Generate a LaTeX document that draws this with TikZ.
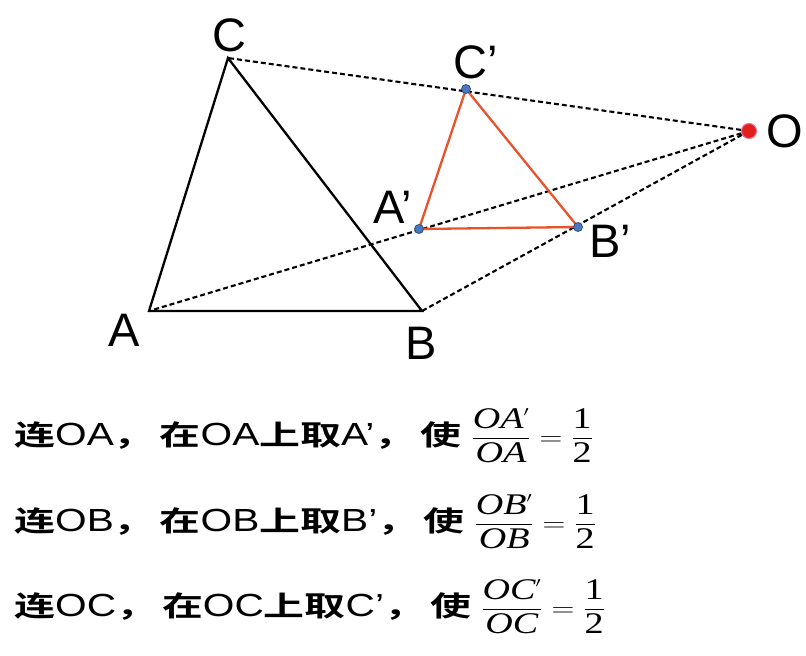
\documentclass[tikz,border=0pt]{standalone}
\usepackage{fontspec}
\usepackage{amsmath}
\setmainfont{Liberation Serif}
\setsansfont{Liberation Sans}
\newfontfamily\cjk[FakeStretch=1.15]{Noto Sans CJK SC Bold}
\newfontfamily\lat{Liberation Sans}
\usetikzlibrary{positioning}
\definecolor{small_red}{HTML}{E9532B}
\definecolor{dot_blue}{HTML}{4A78C0}
\definecolor{dot_edge}{HTML}{2F4F80}
\definecolor{centre_red}{HTML}{E0201A}
\definecolor{centre_edge}{HTML}{F06A9A}
\newcommand\ratio[1]{{\fontsize{30}{30}\selectfont$\displaystyle\frac{\textit{O#1}^{\scriptscriptstyle\prime}}{\textit{O#1}}=\frac{\text{1}}{\text{2}}$}}
\tikzset{
  big_triangle/.style={draw=black, line width=2.3pt},
  small_triangle/.style={draw=small_red, line width=2.3pt},
  ray/.style={draw=black, line width=2.1pt, dash pattern=on 5pt off 3pt},
  point/.style={circle, fill=dot_blue, draw=dot_edge, line width=0.8pt, inner sep=0pt, minimum size=9pt},
  centre/.style={circle, fill=centre_red, draw=centre_edge, line width=1pt, inner sep=0pt, minimum size=15pt},
  vertex_label/.style={font=\fontsize{47}{47}\selectfont\sffamily, inner sep=0pt},
  step_text/.style={anchor=base west, xscale=1.27, transform shape, font=\fontsize{32}{32}\selectfont, inner sep=0pt},
}

\begin{document}
\begin{tikzpicture}[x=1pt, y=-1pt]
  \useasboundingbox (0,0) rectangle (806,656);
  % points of the figure
  \coordinate (A) at (149,311);
  \coordinate (B) at (422,311);
  \coordinate (C) at (228,58);
  \coordinate (O) at (749,131);
  \coordinate (Ap) at (419,229);
  \coordinate (Bp) at (578,227);
  \coordinate (Cp) at (466,89);

  \draw[ray] (O) -- (A);
  \draw[ray] (O) -- (B);
  \draw[ray] (O) -- (C);
  \draw[big_triangle] (A) -- (B) -- (C) -- cycle;
  \draw[small_triangle] (Ap) -- (Bp) -- (Cp) -- cycle;

  \node (dotA) [point] at (Ap) {};
  \node (dotB) [point] at (Bp) {};
  \node (dotC) [point] at (Cp) {};
  \node (dotO) [centre] at (O) {};

  % labels
  \node (labelA) [vertex_label] at (124,330) {A};
  \node (labelB) [vertex_label] at (421,343) {B};
  \node (labelC) [vertex_label] at (229,35) {C};
  \node (labelO) [vertex_label] at (785,131) {O};
  \node (labelAp) [vertex_label] at (393,207) {A’};
  \node (labelBp) [vertex_label] at (610,241) {B’};
  \node (labelCp) [vertex_label] at (476,62) {C’};

  % the three steps
  \node (stepA) [step_text] at (14,445) {{\cjk\fontsize{28}{28}\selectfont 连}{\lat OA}{\cjk\fontsize{28}{28}\selectfont ，\hspace{4pt}在}{\lat OA}{\cjk\fontsize{28}{28}\selectfont 上取}{\lat A’}{\cjk\fontsize{28}{28}\selectfont ，\hspace{4pt}使}\ \ratio{A}};
  \node (stepB) [step_text] at (14,531) {{\cjk\fontsize{28}{28}\selectfont 连}{\lat OB}{\cjk\fontsize{28}{28}\selectfont ，\hspace{4pt}在}{\lat OB}{\cjk\fontsize{28}{28}\selectfont 上取}{\lat B’}{\cjk\fontsize{28}{28}\selectfont ，\hspace{4pt}使}\ \ratio{B}};
  \node (stepC) [step_text] at (14,616) {{\cjk\fontsize{28}{28}\selectfont 连}{\lat OC}{\cjk\fontsize{28}{28}\selectfont ，\hspace{4pt}在}{\lat OC}{\cjk\fontsize{28}{28}\selectfont 上取}{\lat C’}{\cjk\fontsize{28}{28}\selectfont ，\hspace{4pt}使}\ \ratio{C}};
\end{tikzpicture}
\end{document}
